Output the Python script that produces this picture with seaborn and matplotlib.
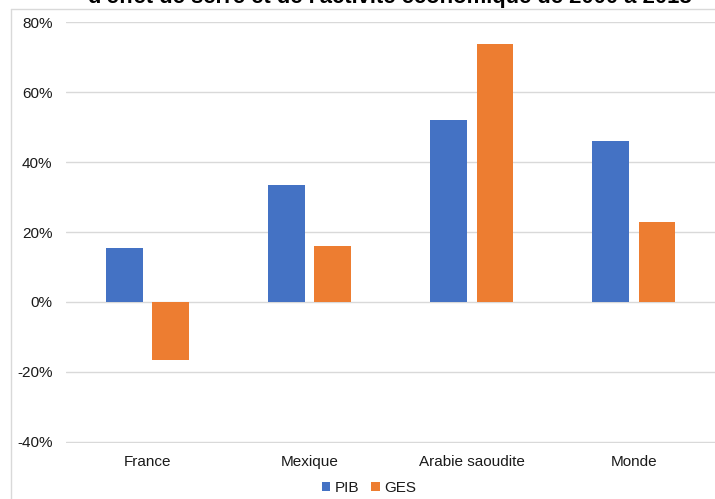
import matplotlib
matplotlib.use("Agg")
import matplotlib.pyplot as plt
import seaborn as sns
import pandas as pd
from matplotlib.ticker import FuncFormatter

categories = ["France", "Mexique", "Arabie saoudite", "Monde"]
series = ["PIB", "GES"]
pib = [15.4, 33.4, 52.0, 46.0]
ges = [-16.6, 16.0, 73.7, 22.8]
yticks = [-40, -20, 0, 20, 40, 60, 80]
title = "d'effet de serre et de l'activité économique de 2000 à 2018"

df = pd.DataFrame({
    "pays": categories * 2,
    "serie": [series[0]] * 4 + [series[1]] * 4,
    "val": pib + ges,
})

sns.set_theme(style="white")
plt.rcParams["font.family"] = ["Liberation Sans", "DejaVu Sans"]

fig = plt.figure(figsize=(7.15, 4.99), dpi=100)
ax = fig.add_axes([66.4 / 715, 1 - 442.8 / 499, (714.8 - 66.4) / 715, (442.8 - 22.3) / 499])

sns.barplot(data=df, x="pays", y="val", hue="serie", order=categories,
            hue_order=series, palette=["#4472C4", "#ED7D31"],
            width=0.57, gap=0.21, saturation=1, ax=ax, legend=True,
            linewidth=0, zorder=3)

ax.set_ylim(-40.3, 80)
ax.set_yticks(yticks)
ax.yaxis.set_major_formatter(FuncFormatter(lambda v, p: f"{v:.0f}%"))
ax.grid(axis="y", color="#D9D9D9", linewidth=1, zorder=0)
ax.set_axisbelow(True)
for s in ax.spines.values():
    s.set_visible(False)
ax.set_xlabel("")
ax.set_ylabel("")
ax.tick_params(axis="y", length=0, pad=10, labelsize=11, labelcolor="#1a1a1a")
ax.tick_params(axis="x", length=0, pad=9, labelsize=11, labelcolor="#1a1a1a")

leg = ax.legend(loc="center", bbox_to_anchor=(369 / 715, 1 - 488 / 499),
                bbox_transform=fig.transFigure, ncol=2, frameon=False,
                fontsize=11, handlelength=0.55, handleheight=0.55,
                handletextpad=0.3, columnspacing=0.8, labelcolor="#1a1a1a")

# outer frame lines (left and top)
fig.add_artist(plt.Line2D([10.5 / 715, 10.5 / 715], [0, 1 - 9 / 499],
                          transform=fig.transFigure, color="#D9D9D9", linewidth=1))
fig.add_artist(plt.Line2D([10.5 / 715, 1], [1 - 9 / 499, 1 - 9 / 499],
                          transform=fig.transFigure, color="#D9D9D9", linewidth=1))

fig.text(390 / 715, 1 - 3 / 499, title, ha="center", va="baseline",
         fontsize=15.8, fontweight="bold", color="#000000")

fig.savefig("out.png", dpi=100)
